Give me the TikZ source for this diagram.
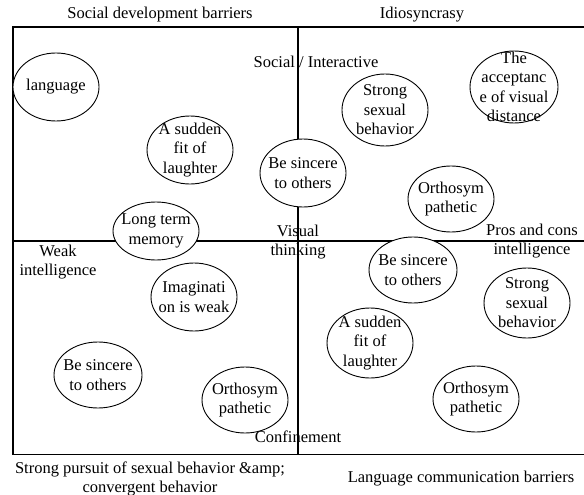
\documentclass[tikz,border=0pt]{standalone}
\usepackage{fontspec}
\setmainfont{LiberationSerif}[Extension=.ttf, UprightFont=*-Regular]
\usetikzlibrary{shapes.geometric}

\tikzset{
  bubble/.style={ellipse, draw, fill=white, line width=0.9pt, inner sep=0pt,
                 minimum width=86pt, minimum height=68pt},
  btext/.style={align=center, inner sep=0pt,
                font=\fontsize{16.5}{19.5}\selectfont},
  axislabel/.style={align=center, inner sep=0pt,
                    font=\fontsize{16.5}{19.5}\selectfont}
}

\begin{document}
\begin{tikzpicture}[x=1pt,y=-1pt]
            \useasboundingbox (0,0) rectangle (584,495);
            % frame and quadrants
            \draw[line width=1.2pt] (584,27) -- (13,27) -- (13,454.5) -- (584,454.5);
            \draw[line width=1.2pt] (298,27) -- (298,454.5);
            \draw[line width=1.2pt] (13,241) -- (584,241);
            % bubbles
            \node[bubble] (lang) at (56,87) {};
            \node[bubble] (fitA) at (190,150) {};
            \node[bubble] (sinA) at (303,173) {};
            \node[bubble, minimum height=58pt] (mem) at (156,231) {};
            \node[bubble, minimum height=72pt] (strA) at (385,110) {};
            \node[bubble, minimum width=88pt, minimum height=72pt] (acc) at (514,87) {};
            \node[bubble, minimum height=66pt] (orthA) at (451,199) {};
            \node[bubble] (imag) at (194,297) {};
            \node[bubble, minimum width=88pt, minimum height=66pt] (sinB) at (98,375) {};
            \node[bubble, minimum height=66pt] (orthB) at (245,400) {};
            \node[bubble, minimum width=88pt, minimum height=66pt] (sinC) at (413,270) {};
            \node[bubble, minimum height=70pt] (strB) at (527,303) {};
            \node[bubble, minimum height=70pt] (fitB) at (370,343) {};
            \node[bubble, minimum height=66pt] (orthC) at (476,399) {};
            % bubble texts
            \node[btext] (langT) at (lang) {language};
            \node[btext] (fitAT) at (fitA) {A sudden\\fit of\\laughter};
            \node[btext] (sinAT) at (sinA) {Be sincere\\to others};
            \node[btext] (memT) at (mem) {Long term\\memory};
            \node[btext] (strAT) at (strA) {Strong\\sexual\\behavior};
            \node[btext] (accT) at (acc) {The\\acceptanc\\e of visual\\distance};
            \node[btext] (orthAT) at (orthA) {Orthosym\\pathetic};
            \node[btext] (imagT) at (imag) {Imaginati\\on is weak};
            \node[btext] (sinBT) at (sinB) {Be sincere\\to others};
            \node[btext] (orthBT) at (orthB) {Orthosym\\pathetic};
            \node[btext] (sinCT) at (sinC) {Be sincere\\to others};
            \node[btext] (strBT) at (strB) {Strong\\sexual\\behavior};
            \node[btext] (fitBT) at (fitB) {A sudden\\fit of\\laughter};
            \node[btext] (orthCT) at (orthC) {Orthosym\\pathetic};
            % axis labels
            \node[axislabel] (social) at (160,15) {Social development barriers};
            \node[axislabel] (idio) at (422,15) {Idiosyncrasy};
            \node[axislabel] (inter) at (316,62) {Social / Interactive};
            \node[axislabel] (visual) at (298,242) {Visual\\thinking};
            \node[axislabel] (weak) at (58,262) {Weak\\intelligence};
            \node[axislabel] (pros) at (532,241) {Pros and cons\\intelligence};
            \node[axislabel] (conf) at (298,437) {Confinement};
            \node[axislabel] (pursuit) at (150,479) {Strong pursuit of sexual behavior \&amp;\\convergent behavior};
            \node[axislabel] (lang2) at (461,479) {Language communication barriers};
        \end{tikzpicture}
\end{document}
